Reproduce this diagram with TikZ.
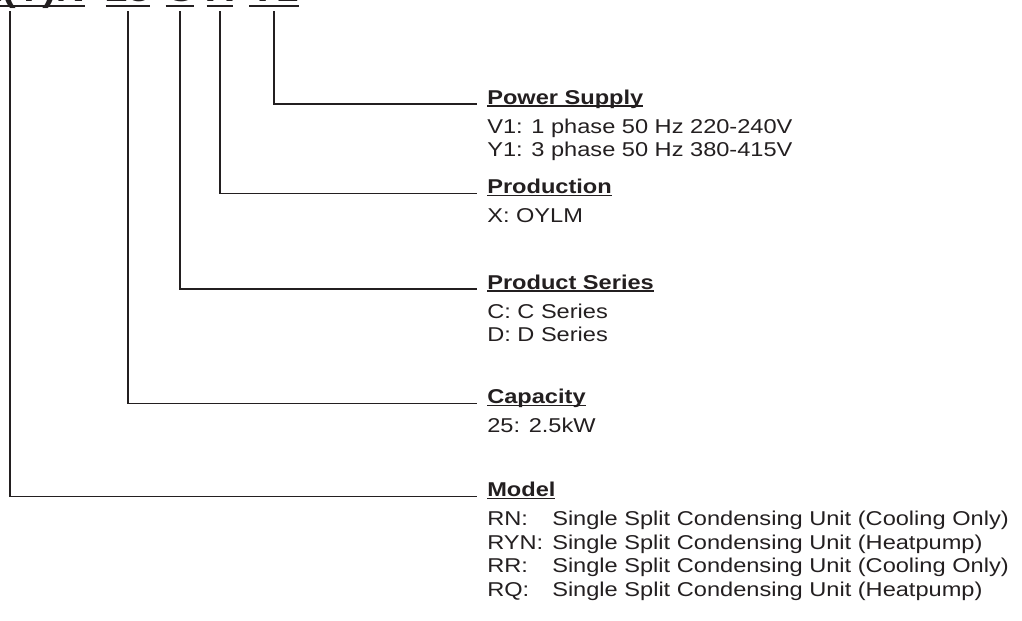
\documentclass[tikz,border=0pt]{standalone}
\usepackage{fontspec}
\setmainfont{Liberation Sans}[FakeStretch=1.18]
\usepackage{xcolor}
\usepackage{tikz}
\usetikzlibrary{positioning}

\definecolor{ink}{HTML}{231F20}
\newcommand\ulhead[1]{\setbox0=\hbox{#1}\rlap{\rule[-2pt]{\wd0}{1.1pt}}\box0}
\newcommand\ulcode[1]{\setbox0=\hbox{#1}\rlap{\rule[-4.1pt]{\wd0}{1.5pt}}\box0}
\newcommand\mcode[1]{\makebox[48.75pt][l]{#1}}

\begin{document}
\begin{tikzpicture}[
    x=0.75pt, y=-0.75pt,
    every node/.style={text=ink},
    codepart/.style={font=\fontsize{25.5}{30}\selectfont\bfseries, inner sep=0pt, anchor=base},
    head/.style={font=\fontsize{15}{17.5}\selectfont\bfseries, inner sep=0pt, anchor=base west},
    descline/.style={font=\fontsize{15}{17.5}\selectfont, inner sep=0pt, text height=13pt, text depth=4.25pt},
    leader/.style={draw=ink, line width=1.4pt}
]
\useasboundingbox (0,0) rectangle (1022,621);

% Model code
\node[codepart, anchor=base east] (cmodel) at (85,1.5) {\ulcode{R(Y)N}};
\node[codepart] (ccap) at (128,1.5) {\ulcode{25}};
\node[codepart] (cseries) at (180,1.5) {\ulcode{C}};
\node[codepart] (cprod) at (220,1.5) {\ulcode{X}};
\node[codepart] (cpower) at (274,1.5) {\ulcode{V1}};
\coordinate (ctop) at (10,11);

% Headings
\node[head] (power) at (487,104) {\ulhead{Power Supply}};
\node[head] (production) at (487,193.5) {\ulhead{Production}};
\node[head] (series) at (487,289) {\ulhead{Product Series}};
\node[head] (capacity) at (487,403.5) {\ulhead{Capacity}};
\node[head] (model) at (487,496.5) {\ulhead{Model}};

% Descriptions
\node[descline, below right=8.75pt and 0pt of power.base west] (v1) {V1: 1 phase 50 Hz 220-240V};
\node[descline, below right=0pt and 0pt of v1.south west] (y1) {Y1: 3 phase 50 Hz 380-415V};
\node[descline, below right=8.75pt and 0pt of production.base west] (xoylm) {X: OYLM};
\node[descline, below right=8.75pt and 0pt of series.base west] (cser) {C: C Series};
\node[descline, below right=0pt and 0pt of cser.south west] (dser) {D: D Series};
\node[descline, below right=8.75pt and 0pt of capacity.base west] (c25) {25: 2.5kW};
\node[descline, below right=8.75pt and 0pt of model.base west] (rn) {\mcode{RN:}Single Split Condensing Unit (Cooling Only)};
\node[descline, below right=0pt and 0pt of rn.south west] (ryn) {\mcode{RYN:}Single Split Condensing Unit (Heatpump)};
\node[descline, below right=0pt and 0pt of ryn.south west] (rr) {\mcode{RR:}Single Split Condensing Unit (Cooling Only)};
\node[descline, below right=0pt and 0pt of rr.south west] (rq) {\mcode{RQ:}Single Split Condensing Unit (Heatpump)};

% Leaders
\draw[leader] (cpower.base |- ctop) |- ([xshift=-7.5pt]power.base west);
\draw[leader] (cprod.base |- ctop) |- ([xshift=-7.5pt]production.base west);
\draw[leader] (cseries.base |- ctop) |- ([xshift=-7.5pt]series.base west);
\draw[leader] (ccap.base |- ctop) |- ([xshift=-7.5pt]capacity.base west);
\draw[leader] (ctop) |- ([xshift=-7.5pt]model.base west);

\end{tikzpicture}
\end{document}
